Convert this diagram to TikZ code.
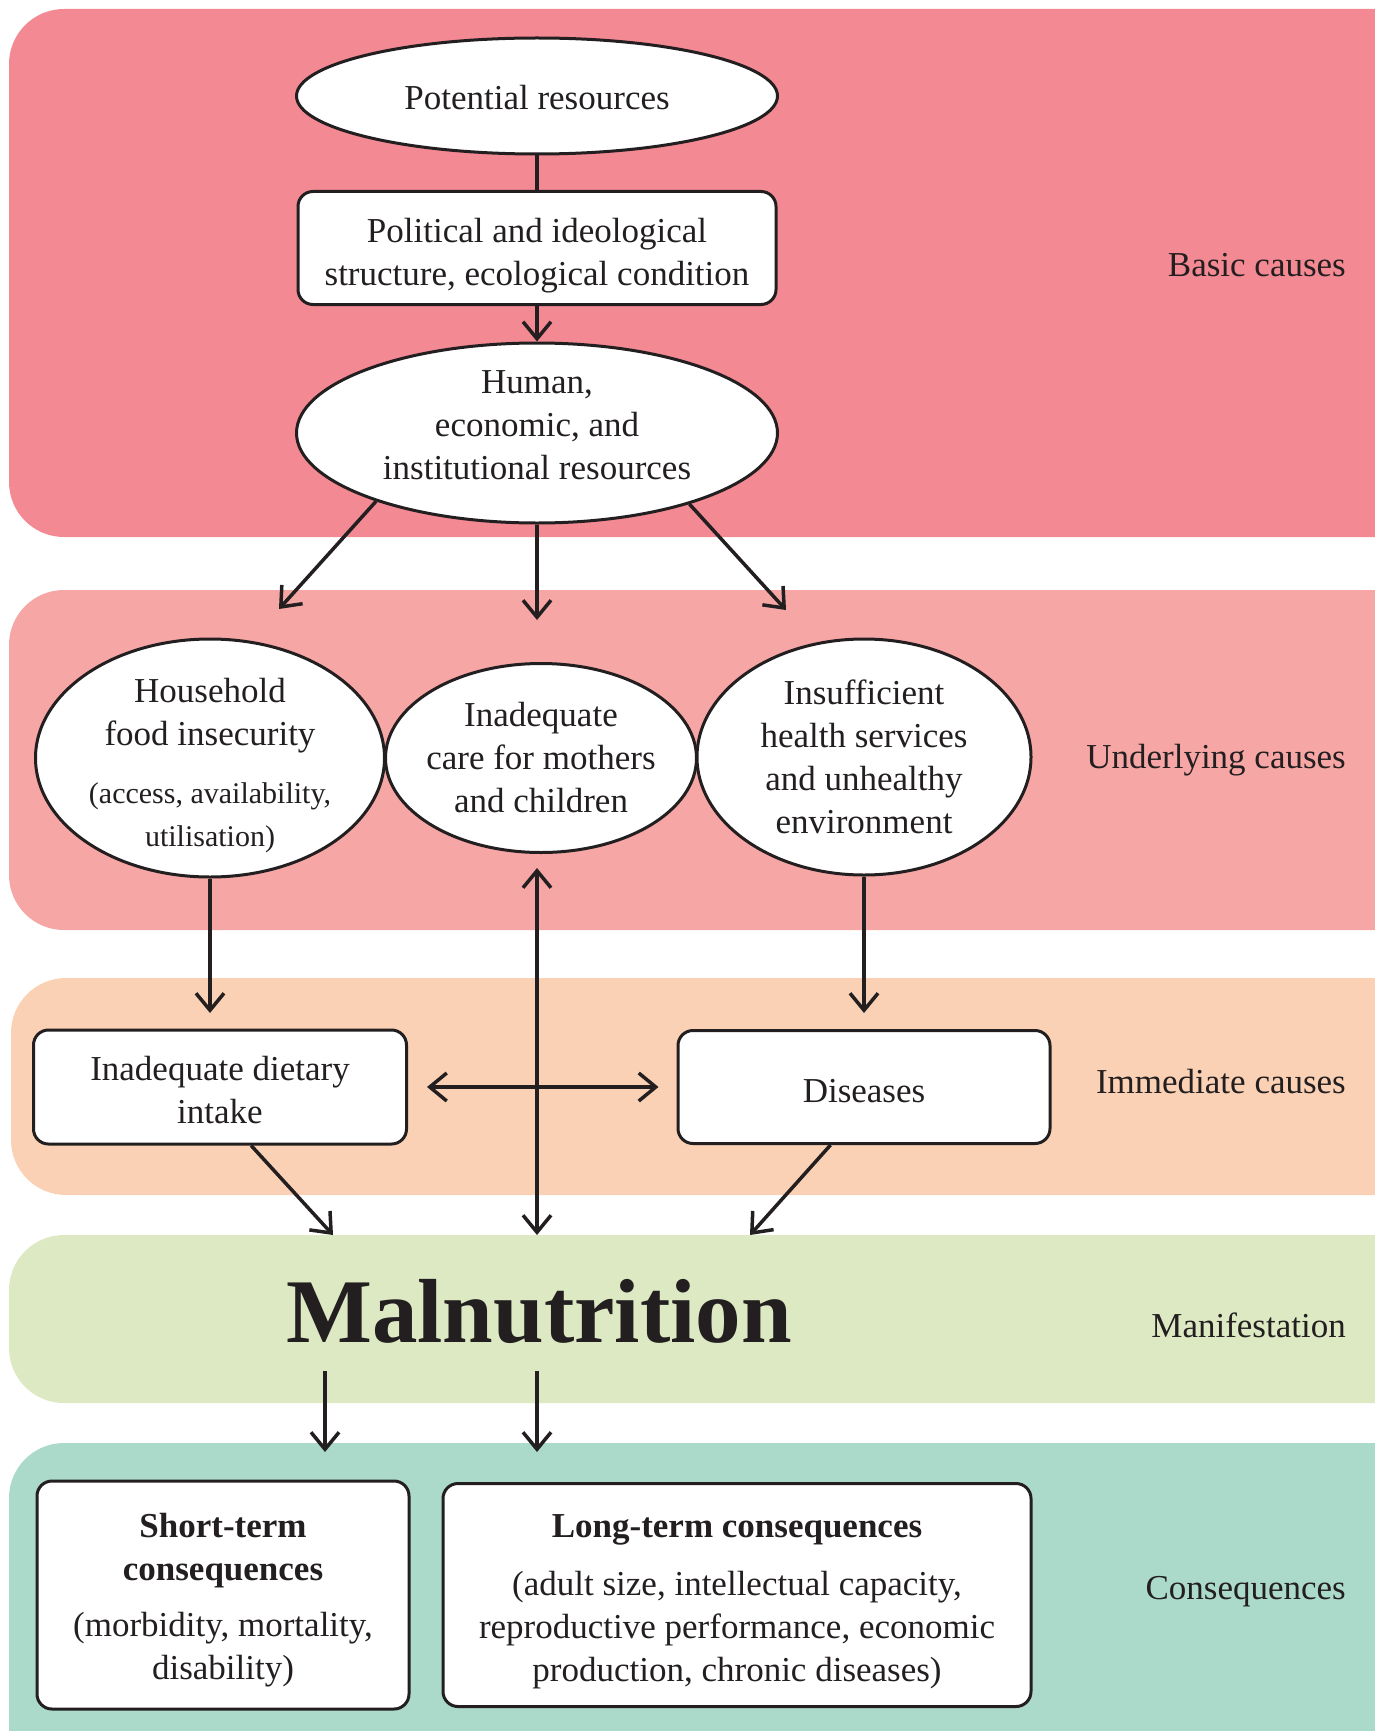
\documentclass[tikz,border=0pt]{standalone}
\usepackage{fontspec}
\setmainfont{Liberation Serif}
\usetikzlibrary{shapes.geometric, arrows.meta, positioning}
\definecolor{ink}{RGB}{35,31,32}
\definecolor{basicband}{RGB}{243,137,147}
\definecolor{underband}{RGB}{246,167,165}
\definecolor{immband}{RGB}{250,209,180}
\definecolor{manband}{RGB}{221,233,195}
\definecolor{conband}{RGB}{171,218,203}
\newcommand{\subtxt}[1]{{\fontsize{30}{42}\selectfont #1}}
\tikzset{
	oval/.style={ellipse, draw=ink, line width=3pt, fill=white, inner sep=0pt, align=center, text=ink, font=\fontsize{35}{43}\selectfont},
	panel/.style={rectangle, rounded corners=15pt, draw=ink, line width=3pt, fill=white, inner sep=0pt},
	txt/.style={align=center, text=ink, inner sep=0pt, font=\fontsize{35}{43}\selectfont},
	band/.style={rounded corners=55pt},
	side/.style={anchor=base east, inner sep=0pt, text=ink, font=\fontsize{35}{43}\selectfont},
	line/.style={line width=3.5pt, draw=ink},
	arrow/.style={line, -{Straight Barb[length=17pt, width=28pt]}},
	dblarrow/.style={line, {Straight Barb[length=17pt, width=28pt]}-{Straight Barb[length=17pt, width=28pt]}}
}

\begin{document}
\begin{tikzpicture}[x=1pt, y=-1pt]
	\useasboundingbox (0,0) rectangle (1375,1731);
	\clip (0,0) rectangle (1375,1731);
	% Bands
	\fill [band, fill=basicband] (9,9) rectangle (1430,537);
	\fill [band, fill=underband] (9,590) rectangle (1430,930);
	\fill [band, fill=immband] (11,978) rectangle (1430,1195);
	\fill [band, fill=manband] (9,1235) rectangle (1430,1403);
	\fill [band, fill=conband] (9,1443) rectangle (1430,1800);
	
	% Band labels
	\node (basic) [side] at (1346,276) {Basic causes};
	\node (under) [side] at (1346,768) {Underlying causes};
	\node (imm) [side] at (1346,1093) {Immediate causes};
	\node (man) [side] at (1346,1337) {Manifestation};
	\node (con) [side] at (1346,1599) {Consequences};
	
	% Nodes
	\node (pot) [oval, minimum width=481pt, minimum height=116pt] at (537,96) {};
	\node (pot-t) [txt] at ([yshift=-2pt]pot) {Potential resources};
	\node (pol) [panel, minimum width=478pt, minimum height=113pt] at (537,248) {};
	\node (pol-t) [txt] at ([yshift=-8pt]pol) {Political and ideological\\structure, ecological condition};
	\node (hum) [oval, minimum width=481pt, minimum height=180pt] at (537,433) {};
	\node (hum-t) [txt] at ([yshift=8pt]hum) {Human,\\economic, and\\institutional resources};
	\node (house) [oval, minimum width=349pt, minimum height=238pt] at (210,758) {};
	\node (house-t) [txt] at ([yshift=-8pt]house) {Household\\food insecurity\\[15pt]\subtxt{(access, availability,}\\\subtxt{utilisation)}};
	\node (care) [oval, minimum width=311pt, minimum height=189pt] at (541,758) {};
	\node (care-t) [txt] at (care) {Inadequate\\care for mothers\\and children};
	\node (ins) [oval, minimum width=334pt, minimum height=236pt] at (864,757) {};
	\node (ins-t) [txt] at (ins) {Insufficient\\health services\\and unhealthy\\environment};
	\node (diet) [panel, minimum width=373pt, minimum height=114pt] at (220,1087) {};
	\node (diet-t) [txt] at ([yshift=-3pt]diet) {Inadequate dietary\\intake};
	\node (dis) [panel, minimum width=372pt, minimum height=113pt] at (864,1087) {};
	\node (dis-t) [txt] at ([yshift=-4pt]dis) {Diseases};
	\node (mal) [anchor=base, inner xsep=0pt, inner ysep=28pt, text=ink, font=\fontsize{91}{100}\selectfont\bfseries] at (539,1342) {Malnutrition};
	\node (short) [panel, minimum width=372pt, minimum height=228pt] at (223,1595) {};
	\node (short-t) [txt] at ([yshift=-5pt]short) {\textbf{Short-term}\\\textbf{consequences}\\[13pt](morbidity, mortality,\\disability)};
	\node (long) [panel, minimum width=588pt, minimum height=223pt] at (737,1595) {};
	\node (long-t) [txt] at ([yshift=-7pt]long) {\textbf{Long-term consequences}\\[15pt](adult size, intellectual capacity,\\reproductive performance, economic\\production, chronic diseases)};
	
	% Arrow ends
	\coordinate (houseIn) at (279,609);
	\coordinate (careIn) at (537,620);
	\coordinate (insIn) at (786,610);
	\coordinate (dietIn) at (210,1013);
	\coordinate (disIn) at (864,1013);
	\coordinate (careOut) at (537,868);
	\coordinate (malIn) at (537,1235);
	\coordinate (malInL) at (333,1235);
	\coordinate (malInR) at (750,1235);
	\coordinate (shortIn) at (325,1452);
	\coordinate (longIn) at (537,1452);
	
	% Arrows
	\draw [line] (pot) -- (pol);
	\draw [arrow] (pol) -- (hum);
	\draw [arrow] (hum.203) -- (houseIn);
	\draw [arrow] (hum.south) -- (careIn);
	\draw [arrow] (hum.335) -- (insIn);
	\draw [arrow] (house.south) -- (dietIn);
	\draw [arrow] (ins.south) -- (disIn);
	\draw [dblarrow] (careOut) -- (malIn);
	\draw [dblarrow, shorten <=19pt, shorten >=18pt] (diet) -- (dis);
	\draw [arrow] (diet.298) -- (malInL);
	\draw [arrow] (dis.240) -- (malInR);
	\draw [arrow] (mal.south -| shortIn) -- (shortIn);
	\draw [arrow] (mal.south -| longIn) -- (longIn);
\end{tikzpicture}
\end{document}
